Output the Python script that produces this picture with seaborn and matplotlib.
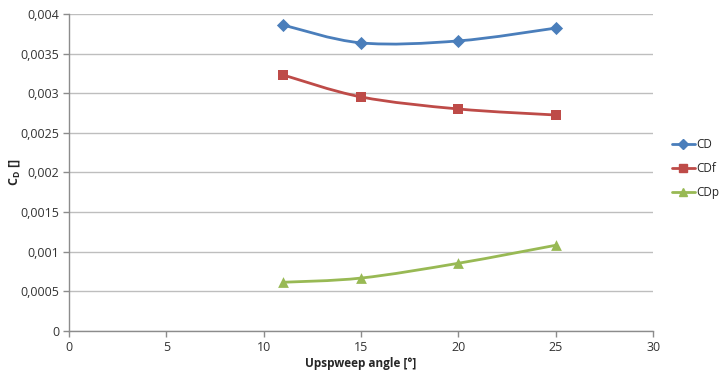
import numpy as np
import pandas as pd
import seaborn as sns
import matplotlib
matplotlib.use("Agg")
import matplotlib.pyplot as plt
from matplotlib.path import Path
from matplotlib.patches import PathPatch
from matplotlib.lines import Line2D

angles = [11, 15, 20, 25]
cd = [0.00386, 0.003635, 0.00366, 0.003822]
cdf = [0.00323, 0.002953, 0.002801, 0.002725]
cdp = [0.000615, 0.000668, 0.000855, 0.001082]
series_names = ["CD", "CDf", "CDp"]
colors = ["#4A7EBB", "#BE4B48", "#98B954"]
markers = ["D", "s", "^"]
yticks = [0, 0.0005, 0.001, 0.0015, 0.002, 0.0025, 0.003, 0.0035, 0.004]
xticks = [0, 5, 10, 15, 20, 25, 30]

sns.set_theme(style="white")
plt.rcParams['font.family'] = ['Open Sans', 'DejaVu Sans']

df = pd.DataFrame({"angle": angles * 3,
                   "value": cd + cdf + cdp,
                   "series": [n for n in series_names for _ in angles]})

fig = plt.figure(figsize=(7.21, 3.77), dpi=100)
ax = fig.add_axes([0.0957, 0.122, 0.8103, 0.841])


def smooth_path(xs, ys):
    xs = np.asarray(xs, float); ys = np.asarray(ys, float)
    n = len(xs)
    verts = [(xs[0], ys[0])]
    codes = [Path.MOVETO]
    for i in range(n - 1):
        p0 = (xs[i - 1], ys[i - 1]) if i > 0 else (xs[i], ys[i])
        p1 = (xs[i], ys[i]); p2 = (xs[i + 1], ys[i + 1])
        p3 = (xs[i + 2], ys[i + 2]) if i + 2 < n else p2
        c1 = (p1[0] + (p2[0] - p0[0]) / 6, p1[1] + (p2[1] - p0[1]) / 6)
        c2 = (p2[0] - (p3[0] - p1[0]) / 6, p2[1] - (p3[1] - p1[1]) / 6)
        verts += [c1, c2, p2]
        codes += [Path.CURVE4] * 3
    return Path(verts, codes)


handles = []
for name, col, mk in zip(series_names, colors, markers):
    sub = df[df.series == name]
    ax.add_patch(PathPatch(smooth_path(sub.angle, sub.value), facecolor="none",
                           edgecolor=col, lw=2, zorder=3))
    handles.append(Line2D([], [], color=col, lw=2, marker=mk,
                          markersize=6 if mk != "D" else 5, label=name))

ms = {"CD": 45, "CDf": 60, "CDp": 60}
for name, col, mk in zip(series_names, colors, markers):
    sub = df[df.series == name]
    sns.scatterplot(data=sub, x="angle", y="value", marker=mk, color=col,
                    s=ms[name], edgecolor=col, linewidth=0, ax=ax, zorder=4,
                    legend=False)

ax.set_xlim(0, 30)
ax.set_ylim(0, 0.004)
ax.set_xticks(xticks)
ax.set_xticklabels([str(t) for t in xticks], fontsize=9, color="#333333")
ax.set_yticks(yticks)
ax.set_yticklabels([("%g" % t).replace(".", ",") if t != 0 else "0" for t in yticks],
                   fontsize=9, color="#333333")
ax.yaxis.grid(True, color="#BEBEBE", lw=1)
ax.xaxis.grid(False)
for s in ["top", "right"]:
    ax.spines[s].set_visible(False)
for s in ["left", "bottom"]:
    ax.spines[s].set_color("#8C8C8C")
    ax.spines[s].set_linewidth(1)
ax.tick_params(axis="both", which="both", length=4, width=1, color="#8C8C8C",
               direction="out", left=True, bottom=True, pad=3)
ax.set_xlabel("Upspweep angle [°]", fontsize=8.5, fontweight="bold", labelpad=2)
ax.set_ylabel("C$_\\mathregular{D}$ []", fontsize=9, fontweight="bold", labelpad=-1)

fig.legend(handles=handles, loc="upper left", bbox_to_anchor=(0.929, 0.641),
           frameon=False, fontsize=8.5, handlelength=1.9, handletextpad=0.15,
           labelspacing=0.95, borderaxespad=0, borderpad=0.2)

fig.savefig("out.png", dpi=100)
